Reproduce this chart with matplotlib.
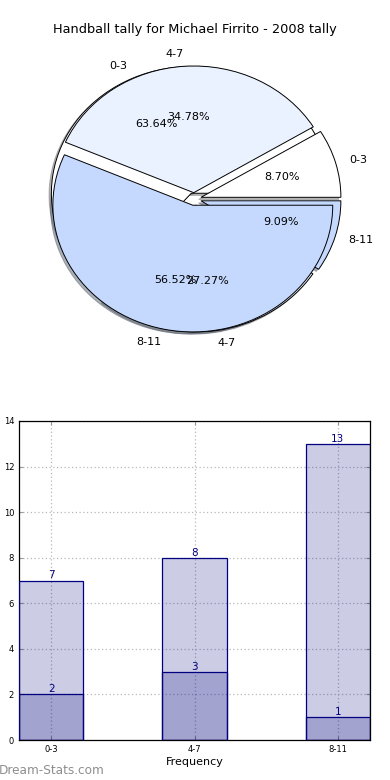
import matplotlib
matplotlib.use("Agg")
import matplotlib.pyplot as plt
import numpy as np

categories = ["0-3", "4-7", "8-11"]
pie_a = [7, 3, 1]
pie_b = [2, 8, 13]
bar_total = [7, 8, 13]
bar_lower = [2, 3, 1]
title = "Handball tally for Michael Firrito - 2008 tally"
ylabel = "Games Played"
xlabel = "Frequency"

colors = ["#ffffff", "#eaf1ff", "#c5d9ff"]
explode = [0.05, 0.05, 0.05]

fig = plt.figure(figsize=(3.9, 7.8), dpi=100)
fig.text(0.5, 1 - 30 / 780, title, ha="center", va="center", fontsize=9.3)

ax = fig.add_axes([0.0495, 0.5418, 0.897, 0.4061])
for vals in (pie_a, pie_b):
    wedges, texts, autotexts = ax.pie(vals, labels=categories, colors=colors, explode=explode,
                                      autopct="%1.2f%%",
                                      shadow=dict(ox=-0.012, oy=-0.012, shade=0.55),
                                      startangle=0,
                                      wedgeprops=dict(edgecolor="black", linewidth=0.7),
                                      textprops=dict(fontsize=8))
ax.set_aspect("auto")
ax.set_xlim(-1.25, 1.25)
ax.set_ylim(-1.25, 1.25)
ax.axis("off")

bx = fig.add_axes([19 / 390, 1 - 740 / 780, 351 / 390, 319 / 780])
x = np.arange(len(categories))
w = 0.45
bx.bar(x, bar_total, w, color="navy", alpha=0.2, zorder=2)
bx.bar(x, bar_total, w, facecolor="none", edgecolor="navy", linewidth=0.9, zorder=3)
bx.bar(x, bar_lower, w, color="navy", alpha=0.2, zorder=2)
bx.bar(x, bar_lower, w, facecolor="none", edgecolor="navy", linewidth=0.9, zorder=3)
for xi, v in zip(x, bar_total):
    bx.text(xi, v, str(v), ha="center", va="bottom", color="navy", fontsize=7.5)
for xi, v in zip(x, bar_lower):
    bx.text(xi, v, str(v), ha="center", va="bottom", color="navy", fontsize=7.5)
bx.set_xlim(-w / 2, len(categories) - 1 + w / 2)
bx.set_ylim(0, 14)
bx.set_yticks(range(0, 15, 2))
bx.set_xticks(x)
bx.set_xticklabels(categories)
bx.tick_params(labelsize=6, direction="in", top=True, right=True, length=3, color="0.6")
bx.grid(True, linestyle=(0, (1, 2)), color="0.72", linewidth=0.9, zorder=0)
bx.set_axisbelow(True)
bx.set_xlabel(xlabel, fontsize=8, labelpad=2)
bx.set_ylabel(ylabel, fontsize=8, labelpad=7)
for s in bx.spines.values():
    s.set_linewidth(0.9)

fig.text(-0.003, 1 - 770 / 780, "Dream-Stats.com", ha="left", va="center", fontsize=8.7,
         color="#8e8e8e")

fig.savefig("out.png", dpi=100)
